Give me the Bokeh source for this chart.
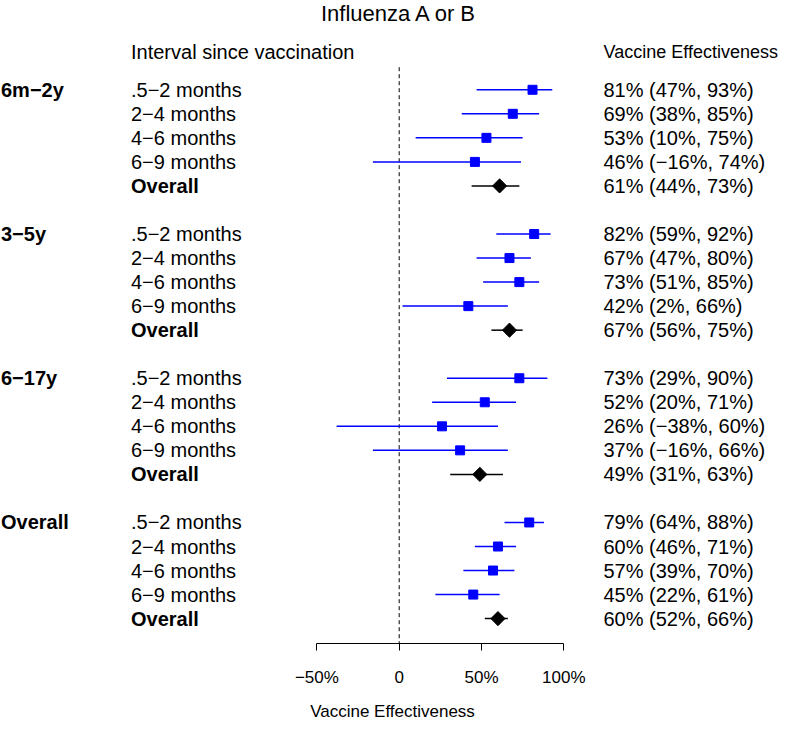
from bokeh.plotting import figure
from bokeh.models import ColumnDataSource, Range1d, FixedTicker
from bokeh.core.properties import value
from bokeh.embed import file_html
from bokeh.resources import INLINE

M = "\u2212"
groups = [f"6m{M}2y", f"3{M}5y", f"6{M}17y", "Overall"]
intervals = [f".5{M}2 months", f"2{M}4 months", f"4{M}6 months", f"6{M}9 months", "Overall"]
ve = [[81, 69, 53, 46, 61], [82, 67, 73, 42, 67], [73, 52, 26, 37, 49], [79, 60, 57, 45, 60]]
lo = [[47, 38, 10, -16, 44], [59, 47, 51, 2, 56], [29, 20, -38, -16, 31], [64, 46, 39, 22, 52]]
hi = [[93, 85, 75, 74, 73], [92, 80, 85, 66, 75], [90, 71, 60, 66, 63], [88, 71, 70, 61, 66]]
tick_values = [-50, 0, 50, 100]
tick_labels = [f"{M}50%", "0", "50%", "100%"]

FONT = value("Liberation Sans")


def pct(v):
    return f"{v}%".replace("-", M)


# layout mapping (pixels -> data units)
PX_PER_PCT = 1.646
ZERO_X = 398.7           # frame x of 0%
ROW_PX = 24.15
ROW0_Y = 89.7            # frame y of first row
W, H = 784, 723
FRAME_H = 646
BOTTOM = H - FRAME_H


def xd(px):
    return (px - ZERO_X) / PX_PER_PCT


def yd(py):
    return (py - ROW0_Y) / ROW_PX


p = figure(width=W, height=H, output_backend="svg", toolbar_location=None,
           x_range=Range1d(xd(0), xd(W)), y_range=Range1d(yd(FRAME_H), yd(0)),
           y_axis_location=None, min_border_left=0, min_border_right=0,
           min_border_top=0, min_border_bottom=BOTTOM)
p.outline_line_color = None
p.xgrid.visible = False
p.ygrid.visible = False

ax = p.xaxis[0]
ax.bounds = (tick_values[0], tick_values[-1])
ax.ticker = FixedTicker(ticks=tick_values)
ax.major_label_overrides = {v: t for v, t in zip(tick_values, tick_labels)}
ax.minor_tick_line_color = None
ax.major_tick_in = 0
ax.major_tick_out = 7
ax.axis_line_color = "black"
ax.major_tick_line_color = "black"
ax.major_label_text_font = "Liberation Sans"
ax.major_label_text_font_size = "17px"
ax.major_label_text_color = "black"
ax.major_label_standoff = 17
ax.axis_label = "Vaccine Effectiveness"
ax.axis_label_text_font = "Liberation Sans"
ax.axis_label_text_font_size = "17px"
ax.axis_label_text_font_style = "normal"
ax.axis_label_text_color = "black"
ax.axis_label_standoff = 12

# data rows
rows = dict(y=[], v=[], lo=[], hi=[], lab=[], txt=[], overall=[])
grp = dict(y=[], g=[])
for gi, g in enumerate(groups):
    grp["y"].append(gi * 6)
    grp["g"].append(g)
    for ri, iv in enumerate(intervals):
        rows["y"].append(gi * 6 + ri)
        rows["v"].append(ve[gi][ri])
        rows["lo"].append(lo[gi][ri])
        rows["hi"].append(hi[gi][ri])
        rows["lab"].append(iv)
        rows["txt"].append(f"{pct(ve[gi][ri])} ({pct(lo[gi][ri])}, {pct(hi[gi][ri])})")
        rows["overall"].append(iv == "Overall")

n = len(rows["y"])
sub = ColumnDataSource({k: [rows[k][i] for i in range(n) if not rows["overall"][i]] for k in rows})
ovr = ColumnDataSource({k: [rows[k][i] for i in range(n) if rows["overall"][i]] for k in rows})
allsrc = ColumnDataSource(rows)

# reference line at 0
p.segment(x0=0, y0=yd(67), x1=0, y1=yd(FRAME_H), line_color="black",
          line_dash="4 3", line_width=1)

# CI lines and markers
p.segment(x0="lo", y0="y", x1="hi", y1="y", source=sub, line_color="#0000FF", line_width=1.5)
p.scatter(x="v", y="y", source=sub, marker="square", size=9,
          fill_color="#0000FF", line_color="#0000FF")
p.segment(x0="lo", y0="y", x1="hi", y1="y", source=ovr, line_color="black", line_width=1.5)
p.scatter(x="v", y="y", source=ovr, marker="square", size=10, angle=0.785398,
          fill_color="black", line_color="black")

# texts
LAB_X = xd(130.5)
VAL_X = xd(603)
p.text(x=LAB_X, y="y", text="lab", source=sub, text_font=FONT, text_font_size="20px",
       text_baseline="middle", text_align="left", text_color="black")
p.text(x=LAB_X, y="y", text="lab", source=ovr, text_font=FONT, text_font_size="20px",
       text_font_style=value("bold"), text_baseline="middle", text_align="left", text_color="black")
p.text(x=VAL_X, y="y", text="txt", source=allsrc, text_font=FONT, text_font_size="20px",
       text_baseline="middle", text_align="left", text_color="black")
p.text(x=xd(0.5), y="y", text="g", source=ColumnDataSource(grp), text_font=FONT,
       text_font_size="20px", text_font_style=value("bold"), text_baseline="middle",
       text_align="left", text_color="black")

# headers and title
p.text(x=[LAB_X], y=[yd(52)], text=["Interval since vaccination"],
       text_font=FONT, text_font_size="20px", text_baseline="middle", text_align="left",
       text_color="black")
p.text(x=[VAL_X], y=[yd(52)], text=["Vaccine Effectiveness"],
       text_font=FONT, text_font_size="18px", text_baseline="middle", text_align="left",
       text_color="black")
p.text(x=[0], y=[yd(13)], text=["Influenza A or B"], text_font=FONT,
       text_font_size="22px", text_baseline="middle", text_align="center", text_color="black")

open("out.html", "w").write(file_html(p, INLINE))
